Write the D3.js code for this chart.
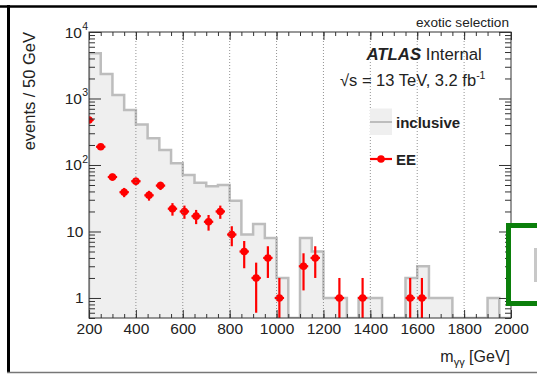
<!DOCTYPE html>
<html>
<head>
<meta charset="utf-8">
<script src="https://cdn.jsdelivr.net/npm/d3@7"></script>
<style>
  body { margin: 0; background: #fff; }
  text { font-family: "Liberation Sans", Arial, sans-serif; fill: #222; }
</style>
</head>
<body>
<script>
// histogram bins (low edges, 50 GeV wide) and inclusive counts
const binEdges = [200, 250, 300, 350, 400, 450, 500, 550, 600, 650, 700, 750, 800, 850, 900, 950,
    1000, 1050, 1100, 1150, 1200, 1250, 1300, 1350, 1400, 1450, 1500, 1550, 1600, 1650, 1700,
    1750, 1800, 1850, 1900, 1950];
const inclusive = [4780, 2340, 1125, 672, 408, 252, 168, 106, 71, 54, 48, 50, 29, 9, 13, 8,
    2, 0, 8, 5, 1, 1, 0, 1, 1, 0, 0, 2, 3, 1, 1, 0, 0, 0, 1, 0];

// EE selection points
const eeMass = [200, 250, 300, 350, 400, 456, 505, 556, 607, 657, 710, 760, 809, 862, 913, 963,
    1012, 1115, 1165, 1268, 1367, 1570, 1620];
const eeCounts = [475, 188, 66, 39, 57, 35, 49, 22, 20, 17, 14, 20, 9, 5, 2, 4, 1, 3, 4, 1, 1, 1, 1];
const eeErrors = [21.8, 13.7, 8.1, 6.2, 7.5, 5.9, 7.0, 4.7, 4.5, 4.1, 3.7, 4.5, 3.0, 2.2, 1.4, 2.0,
    1.0, 1.7, 2.0, 1.0, 1.0, 1.0, 1.0];

// tick labels
const xTickValues = [200, 400, 600, 800, 1000, 1200, 1400, 1600, 1800, 2000];
const yTickValues = [1, 10, 100, 1000, 10000];
const yTickBase = ["1", "10", "10", "10", "10"];
const yTickExp = ["", "", "2", "3", "4"];

// SVG size
const width = 537;
const height = 374;

const svg = d3.select("body")
    .append("svg")
    .attr("width", width)
    .attr("height", height);

// scales
const x = d3.scaleLinear().domain([200, 2000]).range([89, 511]);
const y = d3.scaleLog().domain([0.5, 10000]).range([318, 32]);
const yMin = 0.5;

svg.append("clipPath").attr("id", "plot")
    .append("rect")
    .attr("x", 89).attr("y", 32)
    .attr("width", 422).attr("height", 286);

const plot = svg.append("g").attr("clip-path", "url(#plot)");

// histogram data, with closing edge
const histPts = binEdges.map((e, i) => [e, Math.max(inclusive[i], yMin)]);
histPts.push([2000, Math.max(inclusive[inclusive.length - 1], yMin)]);

plot.append("path")
    .datum(histPts)
    .attr("d", d3.area()
        .curve(d3.curveStepAfter)
        .x(d => x(d[0]))
        .y0(y(yMin))
        .y1(d => y(d[1])))
    .attr("fill", "#efefef");

// grid
svg.append("g")
    .selectAll("line")
    .data(xTickValues.slice(1, -1))
    .enter()
    .append("line")
    .attr("x1", d => x(d)).attr("x2", d => x(d))
    .attr("y1", 32).attr("y2", 318)
    .attr("stroke", "#777")
    .attr("stroke-width", 0.8)
    .attr("stroke-dasharray", "1,2");

// histogram outline
const outline = [[200, yMin]].concat(histPts);
plot.append("path")
    .datum(outline)
    .attr("d", d3.line()
        .curve(d3.curveStepAfter)
        .x(d => x(d[0]))
        .y(d => y(d[1])))
    .attr("fill", "none")
    .attr("stroke", "#bdbdbd")
    .attr("stroke-width", 2.5);

// EE points with errors
const ee = eeMass.map((m, i) => ({ m: m, v: eeCounts[i], e: eeErrors[i] }));
const pts = plot.append("g");

pts.selectAll(".ey")
    .data(ee)
    .enter()
    .append("line")
    .attr("x1", d => x(d.m)).attr("x2", d => x(d.m))
    .attr("y1", d => y(d.v + d.e))
    .attr("y2", d => y(Math.max(d.v - d.e, yMin)))
    .attr("stroke", "#ff0000")
    .attr("stroke-width", 2.2);

pts.selectAll(".ex")
    .data(ee)
    .enter()
    .append("line")
    .attr("x1", d => x(d.m - 20)).attr("x2", d => x(d.m + 20))
    .attr("y1", d => y(d.v)).attr("y2", d => y(d.v))
    .attr("stroke", "#ff0000")
    .attr("stroke-width", 2.2);

pts.selectAll("circle")
    .data(ee)
    .enter()
    .append("circle")
    .attr("cx", d => x(d.m))
    .attr("cy", d => y(d.v))
    .attr("r", 3.8)
    .attr("fill", "#ff0000");

// frame
svg.append("rect")
    .attr("x", 89).attr("y", 32)
    .attr("width", 422).attr("height", 286)
    .attr("fill", "none")
    .attr("stroke", "#333")
    .attr("stroke-width", 1);

// axes ticks
const xMinor = d3.range(200, 2001, 50);
const yMinor = [];
[0.1, 1, 10, 100, 1000].forEach(dec => {
    for (let k = 2; k <= 9; k++) {
        const v = dec * k;
        if (v >= yMin && v <= 10000) yMinor.push(v);
    }
});

function tickAxis(axis, tr) {
    const g = svg.append("g").attr("transform", tr).call(axis);
    g.select(".domain").remove();
    g.selectAll("line").attr("stroke", "#333");
    return g;
}

tickAxis(d3.axisBottom(x).tickValues(xMinor).tickSize(-4).tickFormat(""), "translate(0,318)");
tickAxis(d3.axisBottom(x).tickValues(xTickValues).tickSize(-8).tickFormat(""), "translate(0,318)");
tickAxis(d3.axisTop(x).tickValues(xMinor).tickSize(-4).tickFormat(""), "translate(0,32)");
tickAxis(d3.axisTop(x).tickValues(xTickValues).tickSize(-8).tickFormat(""), "translate(0,32)");
tickAxis(d3.axisLeft(y).tickValues(yMinor).tickSize(-6).tickFormat(""), "translate(89,0)");
tickAxis(d3.axisLeft(y).tickValues(yTickValues).tickSize(-12).tickFormat(""), "translate(89,0)");
tickAxis(d3.axisRight(y).tickValues(yMinor).tickSize(-6).tickFormat(""), "translate(511,0)");
tickAxis(d3.axisRight(y).tickValues(yTickValues).tickSize(-12).tickFormat(""), "translate(511,0)");

// x tick labels
const xLab = svg.append("g")
    .attr("transform", "translate(0,318)")
    .call(d3.axisBottom(x).tickValues(xTickValues).tickSize(0).tickPadding(5).tickFormat(d3.format("d")));
xLab.select(".domain").remove();
xLab.selectAll("text")
    .attr("font-family", "Liberation Sans, Arial, sans-serif")
    .attr("font-size", "15.5px")
    .attr("fill", "#222");

// y tick labels
const yLab = svg.append("g");
yLab.selectAll(".base")
    .data(yTickValues)
    .enter()
    .append("text")
    .attr("x", (d, i) => yTickExp[i] ? 82 : 83.5)
    .attr("y", d => y(d) + 5.5)
    .attr("text-anchor", "end")
    .style("font-size", "15.5px")
    .text((d, i) => yTickBase[i]);

yLab.selectAll(".exp")
    .data(yTickValues)
    .enter()
    .append("text")
    .attr("x", 82.3)
    .attr("y", d => y(d) - 2)
    .style("font-size", "10.5px")
    .text((d, i) => yTickExp[i]);

// axis titles
svg.append("text")
    .attr("transform", "translate(34.5,32) rotate(-90)")
    .attr("text-anchor", "end")
    .style("font-size", "16.5px")
    .text("events / 50 GeV");

const xt = svg.append("text")
    .attr("x", 510)
    .attr("y", 362)
    .attr("text-anchor", "end")
    .style("font-size", "16px");
xt.append("tspan").text("m");
xt.append("tspan").attr("dy", 4).style("font-size", "11px").text("γγ");
xt.append("tspan").attr("dy", -4).text(" [GeV]");

// labels top right
svg.append("text")
    .attr("x", 509).attr("y", 26.5)
    .attr("text-anchor", "end")
    .style("font-size", "13.6px")
    .text("exotic selection");

const atlas = svg.append("text")
    .attr("x", 366.5).attr("y", 60)
    .style("font-size", "16.8px");
atlas.append("tspan").attr("font-weight", "bold").attr("font-style", "italic").text("ATLAS");
atlas.append("tspan").text(" Internal");

const lumi = svg.append("text")
    .attr("x", 340).attr("y", 86)
    .style("font-size", "16.5px");
lumi.append("tspan").text("√s = 13 TeV, 3.2 fb");
lumi.append("tspan").attr("dy", -7).style("font-size", "10.5px").text("-1");

// legend
const leg = svg.append("g");
leg.append("rect")
    .attr("x", 370).attr("y", 108.5)
    .attr("width", 22).attr("height", 26.5)
    .attr("fill", "#efefef");
leg.append("line")
    .attr("x1", 370).attr("x2", 392)
    .attr("y1", 122).attr("y2", 122)
    .attr("stroke", "#bdbdbd").attr("stroke-width", 2);
leg.append("text")
    .attr("x", 396).attr("y", 127.5)
    .attr("font-weight", "bold")
    .style("font-size", "15px")
    .text("inclusive");

leg.append("line")
    .attr("x1", 370).attr("x2", 392)
    .attr("y1", 159).attr("y2", 159)
    .attr("stroke", "#ff0000").attr("stroke-width", 2.2);
leg.append("circle")
    .attr("cx", 381).attr("cy", 159).attr("r", 3.8)
    .attr("fill", "#ff0000");
leg.append("text")
    .attr("x", 396).attr("y", 164.5)
    .attr("font-weight", "bold")
    .style("font-size", "15px")
    .text("EE");

// slide frame and green box
svg.append("line").attr("x1", 0).attr("x2", width).attr("y1", 6.5).attr("y2", 6.5)
    .attr("stroke", "#000").attr("stroke-width", 2.5);
svg.append("line").attr("x1", 8.5).attr("x2", 8.5).attr("y1", 5).attr("y2", 373)
    .attr("stroke", "#000").attr("stroke-width", 3);
svg.append("line").attr("x1", 7).attr("x2", width).attr("y1", 372.5).attr("y2", 372.5)
    .attr("stroke", "#777").attr("stroke-width", 1.5);

svg.append("rect")
    .attr("x", 508.5).attr("y", 225.5)
    .attr("width", 40).attr("height", 78)
    .attr("fill", "#fff")
    .attr("stroke", "#0b7f0b")
    .attr("stroke-width", 5);
svg.append("rect")
    .attr("x", 534).attr("y", 248)
    .attr("width", 3).attr("height", 34)
    .attr("fill", "#c8c8c8");
</script>
</body>
</html>
